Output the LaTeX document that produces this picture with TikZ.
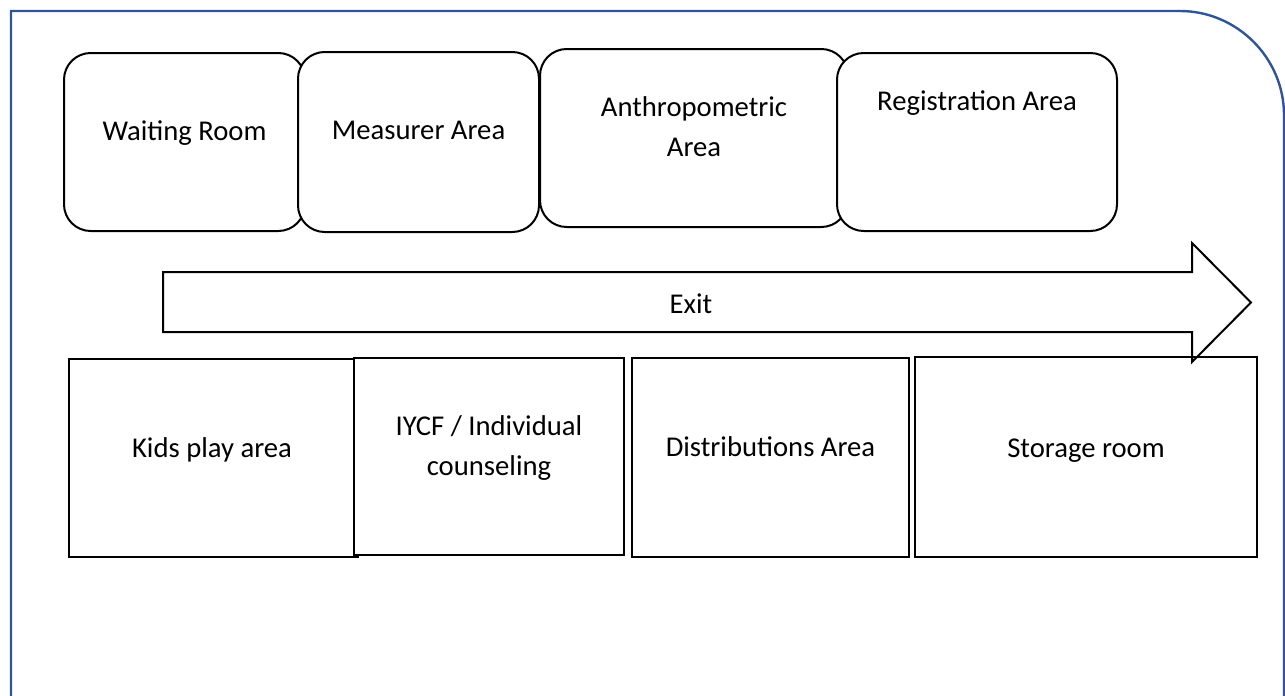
\documentclass[tikz,border=0pt]{standalone}
\usepackage{fontspec}
\setmainfont{Carlito}
\definecolor{frameblue}{HTML}{2F5597}
\begin{document}
\begin{tikzpicture}[x=0.75pt,y=-0.75pt,
  every node/.style={font=\fontsize{21.5}{30}\selectfont, inner sep=0pt, outer sep=0pt},
  roundbox/.style={draw=black, fill=white, line width=1.5pt, rounded corners=20pt, anchor=north west},
  sqbox/.style={draw=black, fill=white, line width=1.5pt, anchor=north west},
  lbl/.style={anchor=base, text=black},
  lbltwo/.style={anchor=north, align=center, text=black},
  frame/.style={draw=frameblue, line width=1.8pt},
  exitarrow/.style={draw=black, line width=1.5pt, line join=miter}]
\useasboundingbox (0,0) rectangle (1285,696);
\fill[white] (0,0) rectangle (1285,696);
% outer frame
\coordinate (f1) at (11,720);
\coordinate (f2) at (11,11);
\coordinate (f3) at (1180,11);
\coordinate (f4) at (1284,115);
\coordinate (f5) at (1284,720);
\draw[frame] (f1) -- (f2) -- (f3) .. controls (1237,11) and (1284,58) .. (f4) -- (f5);
% top row
\node[roundbox, minimum width=180.75pt, minimum height=133.5pt] (wr) at (64,53) {};
\node[roundbox, minimum width=180.75pt, minimum height=135pt] (ma) at (298,52) {};
\node[roundbox, minimum width=231pt, minimum height=133.5pt] (aa) at (540,49) {};
\node[roundbox, minimum width=210pt, minimum height=133.5pt] (ra) at (837,53) {};
\node[lbl] (wrt) at (184.5,140) {Waiting Room};
\node[lbl] (mat) at (418.5,139) {Measurer Area};
\node[lbltwo] (aat) at (694,97) {Anthropometric\\Area};
\node[lbl] (rat) at (977,110) {Registration Area};
% bottom row
\node[sqbox, minimum width=216.75pt, minimum height=148.5pt] (kp) at (69,359) {};
\node[sqbox, minimum width=202.5pt, minimum height=147.75pt] (iy) at (354,358) {};
\node[sqbox, minimum width=207.75pt, minimum height=149.25pt] (da) at (632,358) {};
\node[sqbox, minimum width=256.5pt, minimum height=150pt] (sr) at (915,357) {};
\node[lbl] (kpt) at (212,457) {Kids play area};
\node[lbltwo] (iyt) at (489,416) {IYCF / Individual\\counseling};
\node[lbl] (dat) at (770.5,456) {Distributions Area};
\node[lbl] (srt) at (1086,457) {Storage room};
% exit arrow
\coordinate (e1) at (163,272);
\coordinate (e2) at (1192,272);
\coordinate (e3) at (1192,243);
\coordinate (e4) at (1251,302.5);
\coordinate (e5) at (1192,362);
\coordinate (e6) at (1192,332);
\coordinate (e7) at (163,332);
\draw[exitarrow] (e1) -- (e2) -- (e3) -- (e4) -- (e5) -- (e6) -- (e7) -- cycle;
\node[lbl] (ext) at (691,313) {Exit};
\end{tikzpicture}
\end{document}
